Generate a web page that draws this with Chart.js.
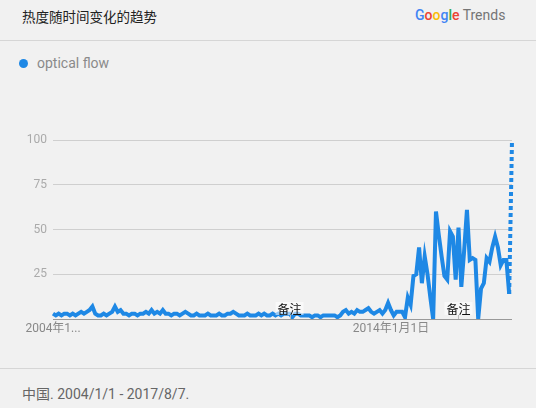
<!DOCTYPE html>
<html>
<head>
<meta charset="utf-8">
<script src="https://cdn.jsdelivr.net/npm/chart.js@4.4.0/dist/chart.umd.min.js"></script>
<style>
  html, body { margin: 0; padding: 0; }
  body {
    width: 536px;
    height: 408px;
    background: #f1f1f1;
    position: relative;
    overflow: hidden;
    font-family: Roboto, "Noto Sans CJK SC", sans-serif;
  }
  .title {
    position: absolute; left: 22px; top: 6px;
    font-size: 13.5px; color: #222;
    font-family: "Noto Sans CJK SC", sans-serif;
  }
  .brand {
    position: absolute; left: 415px; top: 7px;
    font-size: 14px; color: #757575;
  }
  .brand b { font-weight: 500; }
  .rule { position: absolute; left: 0; width: 536px; height: 1px; background: #d6d6d6; }
  .legend {
    position: absolute; left: 19px; top: 55px;
    font-size: 14px; color: #8a8a8a;
  }
  .legend .dot {
    display: inline-block; width: 9px; height: 9px; border-radius: 50%;
    background: #1e88e5; margin-right: 9px; vertical-align: 0px;
  }
  .footer {
    position: absolute; left: 22px; top: 383px;
    font-size: 14px; color: #666;
  }
  #wrap { position: absolute; left: 0; top: 0; width: 536px; height: 408px; }
</style>
</head>
<body>
<div class="title">热度随时间变化的趋势</div>
<div class="brand"><b><span style="color:#4285f4">G</span><span style="color:#ea4335">o</span><span style="color:#fbbc05">o</span><span style="color:#4285f4">g</span><span style="color:#34a853">l</span><span style="color:#ea4335">e</span></b> Trends</div>
<div class="rule" style="top:40px"></div>
<div class="legend"><span class="dot"></span>optical flow</div>
<div class="rule" style="top:368px"></div>
<div class="footer">中国. 2004/1/1 - 2017/8/7.</div>
<div id="wrap"><canvas id="trendChart"></canvas></div>

<script>
// monthly interest, 2004-01 .. 2017-08 (last month is partial)
const seriesName = "optical flow";
const interest = [
  3, 2, 3, 2, 3, 3, 2, 3, 2, 3,
  4, 3, 4, 5, 7, 3, 2, 2, 3, 2,
  3, 4, 7, 4, 5, 3, 3, 2, 3, 3,
  2, 3, 3, 4, 3, 5, 3, 4, 3, 5,
  3, 3, 2, 3, 3, 2, 3, 4, 3, 2,
  2, 3, 2, 2, 2, 3, 2, 2, 2, 3,
  2, 2, 3, 3, 4, 3, 2, 2, 2, 3,
  2, 2, 2, 3, 2, 3, 2, 2, 3, 2,
  3, 2, 3, 3, 3, 1, 3, 3, 2, 2,
  2, 2, 1, 2, 2, 1, 2, 2, 2, 2,
  2, 1, 2, 4, 5, 3, 4, 3, 5, 4,
  4, 5, 6, 4, 3, 4, 5, 3, 5, 9,
  5, 2, 4, 4, 4, 1, 12, 8, 24, 25,
  40, 20, 35, 25, 12, 0, 60, 47, 35, 24,
  22, 49, 46, 22, 51, 18, 38, 61, 33, 34,
  33, 0, 17, 20, 34, 32, 40, 46, 40, 30,
  33, 33, 14, 100
];

const months = [];
for (let y = 2004; y <= 2017; y++) {
  for (let m = 1; m <= 12; m++) {
    if (y === 2017 && m > 8) break;
    months.push(y + "-" + m);
  }
}

const xTickIndex = [0, 120];
const xTickText = ["2004年1...", "2014年1月1日"];
const yTicks = [0, 25, 50, 75, 100];
const noteIndex = [84, 144];
const noteText = "备注";

const blue = "#1e88e5";
const lastIdx = interest.length - 1;

const notesPlugin = {
  id: "notes",
  afterDatasetsDraw(chart) {
    const ctx = chart.ctx;
    const xs = chart.scales.x;
    const bottom = chart.chartArea.bottom;
    ctx.save();
    ctx.font = "12px 'Noto Sans CJK SC', sans-serif";
    ctx.textAlign = "center";
    ctx.textBaseline = "middle";
    noteIndex.forEach((i) => {
      const x = xs.getPixelForValue(i);
      const w = ctx.measureText(noteText).width;
      ctx.fillStyle = "rgba(255,255,255,0.55)";
      ctx.fillRect(x - w / 2 - 2, bottom - 17, w + 4, 13);
      ctx.strokeStyle = "#bbb";
      ctx.lineWidth = 1;
      ctx.beginPath();
      ctx.moveTo(Math.round(x) + 0.5, bottom - 4);
      ctx.lineTo(Math.round(x) + 0.5, bottom);
      ctx.stroke();
      ctx.fillStyle = "#111";
      ctx.fillText(noteText, x, bottom - 10);
    });
    ctx.restore();
  }
};

// x labels drawn by hand from the x scale so they are never clipped
const xLabelPlugin = {
  id: "xLabels",
  afterDraw(chart) {
    const ctx = chart.ctx;
    const xs = chart.scales.x;
    const bottom = chart.chartArea.bottom;
    ctx.save();
    ctx.font = "12px Roboto, 'Noto Sans CJK SC', sans-serif";
    ctx.fillStyle = "#888";
    ctx.textAlign = "center";
    ctx.textBaseline = "middle";
    xTickIndex.forEach((i, k) => {
      ctx.fillText(xTickText[k], xs.getPixelForValue(i), bottom + 10);
    });
    ctx.restore();
  }
};

new Chart(document.getElementById("trendChart"), {
  type: "line",
  data: {
    labels: months,
    datasets: [
      {
        label: seriesName,
        data: interest,
        borderColor: blue,
        borderWidth: 4,
        pointRadius: 0,
        tension: 0,
        borderJoinStyle: "miter",
        segment: {
          borderDash: (c) => (c.p1DataIndex === lastIdx ? [4, 3] : undefined)
        }
      }
    ]
  },
  options: {
    responsive: true,
    maintainAspectRatio: false,
    devicePixelRatio: 1,
    animation: false,
    events: [],
    layout: { padding: { left: 0, top: 140, right: 24, bottom: 69 } },
    plugins: { legend: { display: false }, tooltip: { enabled: false } },
    scales: {
      x: {
        grid: { display: false },
        border: { display: false },
        afterFit: (s) => { s.height = 20; },
        ticks: { display: false }
      },
      y: {
        min: 0,
        max: 100,
        afterFit: (s) => { s.width = 53; },
        afterBuildTicks: (s) => { s.ticks = yTicks.map((v) => ({ value: v })); },
        border: { display: false },
        grid: {
          drawTicks: false,
          tickLength: 0,
          color: (c) => (c.tick && c.tick.value === 0 ? "#999" : "#cfcfcf")
        },
        ticks: {
          padding: 6,
          color: "#aaa",
          font: { family: "Roboto", size: 12 },
          callback: (v) => (v === 0 ? "" : v)
        }
      }
    }
  },
  plugins: [notesPlugin, xLabelPlugin]
});
</script>
</body>
</html>
